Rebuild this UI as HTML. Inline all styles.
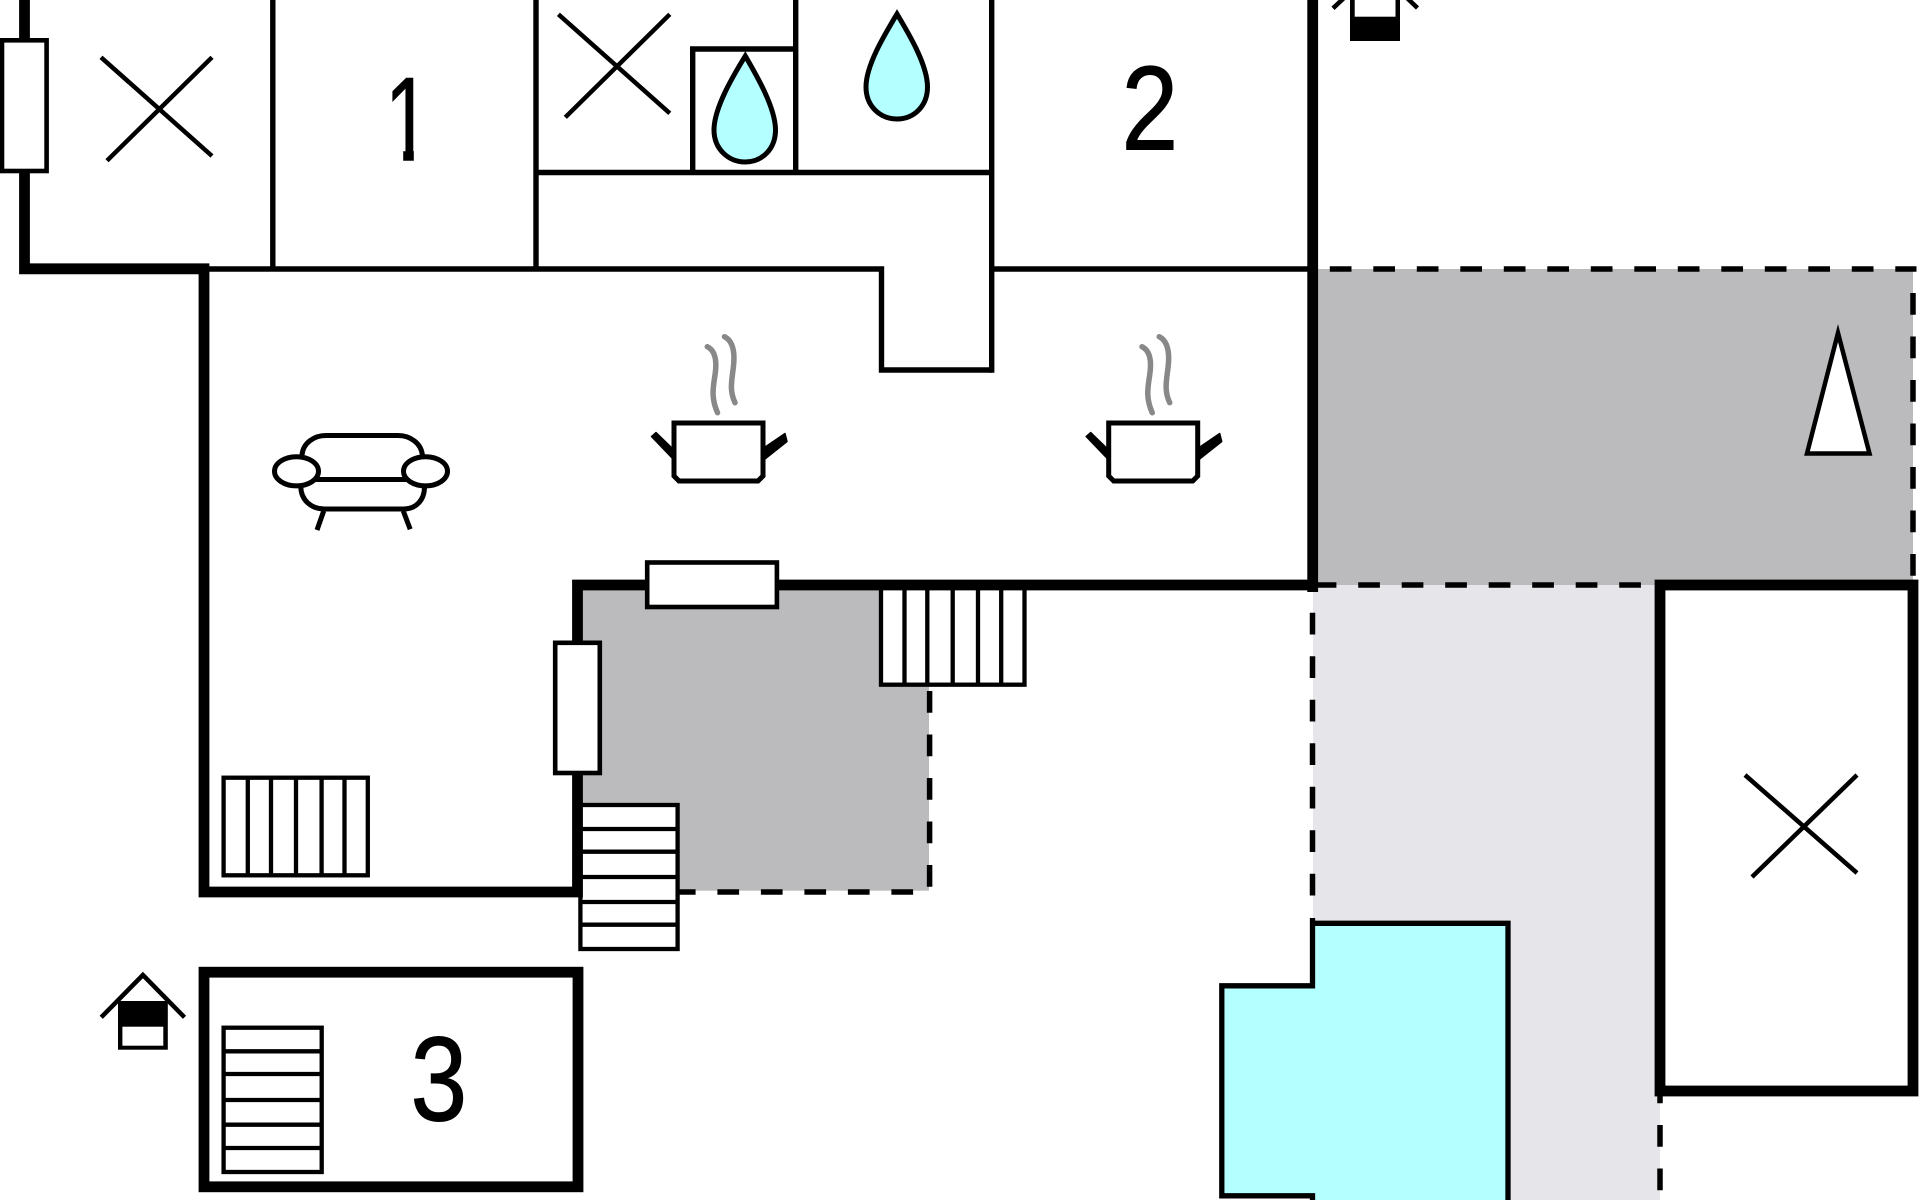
<!DOCTYPE html>
<html>
<head>
<meta charset="utf-8">
<style>
html,body{margin:0;padding:0;background:#fff;width:1920px;height:1200px;overflow:hidden}
svg{display:block}
text{font-family:"Liberation Sans",sans-serif;fill:#000;stroke:#000;stroke-width:1}
</style>
</head>
<body>
<svg width="1920" height="1200" viewBox="0 0 1920 1200" xmlns="http://www.w3.org/2000/svg">
<defs>
<clipPath id="c1"><rect x="370" y="60" width="60" height="89"/><rect x="403.2" y="148" width="10.6" height="13"/></clipPath>
<g id="pot">
  <path d="M651.5,436.5 L656,432.5 L674,450 L674,460 Z M785,433.5 L787,441.5 L763.7,460 L763.7,448 Z" fill="#000" stroke="#000" stroke-width="1.5" stroke-linejoin="round"/>
  <path d="M674,423 H763 V476 L758,481 H679 L674,476 Z" fill="#fff" stroke="#000" stroke-width="5"/>
  <path d="M707.3,346.7 C716,351 717,362 715,375 C713,388 711,398 717.5,412.7" fill="none" stroke="#888" stroke-width="5.5" stroke-linecap="round"/>
  <path d="M724.5,336.7 C733,341 735,352 733.5,366 C732,380 729,390 735,402.7" fill="none" stroke="#888" stroke-width="5.5" stroke-linecap="round"/>
</g>
</defs>

<rect width="1920" height="1200" fill="#fff"/>

<!-- fills -->
<rect x="1318" y="269" width="595" height="316" fill="#bbbbbd"/>
<rect x="1313" y="585" width="347" height="615" fill="#e6e6ea"/>
<rect x="578" y="585" width="351" height="305.7" fill="#bbbbbd"/>

<!-- dashed lines -->
<g stroke="#000" fill="none" stroke-width="5.5" stroke-dasharray="21.7 21.8">
  <line x1="1329.8" y1="269" x2="1916.5" y2="269"/>
  <line x1="1913" y1="293" x2="1913" y2="578"/>
  <line x1="1314.7" y1="585" x2="1641" y2="585"/>
  <line x1="1312.5" y1="569.3" x2="1312.5" y2="898"/>
  <line x1="929.6" y1="691" x2="929.6" y2="888"/>
  <line x1="673.9" y1="892" x2="914" y2="892"/>
  <line x1="1660" y1="1081.5" x2="1660" y2="1200"/>
</g>

<!-- interior thin walls -->
<g stroke="#000" fill="none" stroke-width="5.4">
  <path d="M205,269 H881.5 V370 H991.7"/>
  <path d="M991.7,0 V372.7"/>
  <path d="M991.7,269 H1312"/>
  <path d="M272.8,0 V269"/>
  <path d="M536,0 V269"/>
  <path d="M536,172.5 H991.7"/>
  <path d="M795.7,0 V172.5"/>
  <path d="M692.7,172.5 V49 H795.7"/>
</g>

<!-- stairs -->
<g fill="#fff" stroke="#000" stroke-width="4.3">
  <rect x="223.6" y="777.7" width="144.2" height="97.6"/>
  <path d="M247.8,777 V875 M271,777 V875 M296,777 V875 M321.6,777 V875 M344.5,777 V875" fill="none"/>

  <rect x="881" y="585" width="143.5" height="99.7"/>
  <path d="M904.5,585 V684 M927.3,585 V684 M952.7,585 V684 M978,585 V684 M1001.2,585 V684" fill="none"/>

  <rect x="580.4" y="805" width="97.2" height="144"/>
  <path d="M580,829 H678 M580,851.7 H678 M580,877 H678 M580,902 H678 M580,924.7 H678" fill="none"/>

  <rect x="223.6" y="1027.7" width="98.1" height="144.3"/>
  <path d="M223,1051.3 H322 M223,1074 H322 M223,1100 H322 M223,1124.7 H322 M223,1148 H322" fill="none"/>
</g>

<!-- thick walls -->
<g stroke="#000" fill="none" stroke-width="10.8" stroke-linejoin="miter">
  <path d="M24.5,0 V268.8 H204 V892 H577.5 V585 H1318"/>
  <path d="M1312.7,0 V592"/>
  <rect x="1660" y="585" width="253" height="506" fill="#fff"/>
  <rect x="204" y="972.2" width="374" height="214.6" fill="none"/>
</g>

<!-- pool -->
<path d="M1312.5,918 V923.3 H1508 V1206 H1312.5 V1195.8 H1221.8 V985.8 H1312.5 Z" fill="#b4ffff" stroke="#000" stroke-width="5.3"/>

<!-- windows -->
<g fill="#fff" stroke="#000" stroke-width="4.6">
  <rect x="2" y="40.3" width="44.6" height="130.7"/>
  <rect x="647.2" y="562.5" width="129.7" height="44.5"/>
  <rect x="555.2" y="642.8" width="44.6" height="130.2"/>
</g>

<!-- X marks -->
<g stroke="#000" stroke-width="4.5" fill="none">
  <path d="M101,57.3 L212,156 M212,57.3 L107,160.7"/>
  <path d="M558.4,14.3 L669.8,113.3 M669.8,14.3 L565.3,117.3"/>
  <path d="M1745,775 L1857,873 M1857,775 L1752,877"/>
</g>

<!-- drops -->
<g fill="#b4ffff" stroke="#000" stroke-width="5">
  <path d="M745.3,56 C757,76 775.5,108 775.5,130 C775.5,149 762,162 745.3,162 C728.5,162 714,149 714,130 C714,108 733,76 745.3,56 Z"/>
  <path d="M897,14 C909,34 927.5,65 927.5,87 C927.5,106 914,119 897,119 C880,119 866,106 866,87 C866,65 885,34 897,14 Z"/>
</g>

<!-- triangle -->
<path d="M1838,333 L1869.5,453.5 H1807 Z" fill="#fff" stroke="#000" stroke-width="4.5"/>

<!-- sofa -->
<g fill="none" stroke="#000" stroke-width="5">
  <path d="M302,455 C303,443 314,435.5 326,435.5 H398 C410,435.5 421,443 422.4,455"/>
  <path d="M316,479.5 H406"/>
  <path d="M300.8,486.7 C301,500 311,509 324.5,509 H404 C416,509 424.5,500 424.5,486.7"/>
  <path d="M323.7,511 L317,530 M403.3,511 L410.2,529.3"/>
  <ellipse cx="296.5" cy="471.3" rx="22" ry="14.6" fill="#fff"/>
  <ellipse cx="425.5" cy="471.3" rx="22" ry="14.6" fill="#fff"/>
</g>

<!-- pots -->
<use href="#pot"/>
<use href="#pot" transform="translate(434.7,0)"/>

<!-- gate icons -->
<g>
  <path d="M101.2,1017.3 L142.9,975 L184.5,1017.3" fill="none" stroke="#000" stroke-width="4.5"/>
  <rect x="118" y="1001" width="49.8" height="48.7" fill="#000"/>
  <rect x="122.4" y="1026.7" width="40.9" height="19" fill="#fff"/>
</g>
<g>
  <path d="M1333,8.3 L1345,-3 M1417.5,8 L1406,-3" fill="none" stroke="#000" stroke-width="4.5"/>
  <rect x="1350" y="-8" width="50" height="49" fill="#000"/>
  <rect x="1354.7" y="-8" width="40.8" height="24.7" fill="#fff"/>
</g>

<!-- numbers -->
<g clip-path="url(#c1)"><text transform="translate(384.5,160.3) scale(.7,1)" font-size="120" style="stroke-width:.6">1</text></g>
<text transform="translate(1121.5,149.3) scale(.85,1)" font-size="120">2</text>
<text transform="translate(410.5,1120.3) scale(.85,1)" font-size="120">3</text>
</svg>
</body>
</html>
